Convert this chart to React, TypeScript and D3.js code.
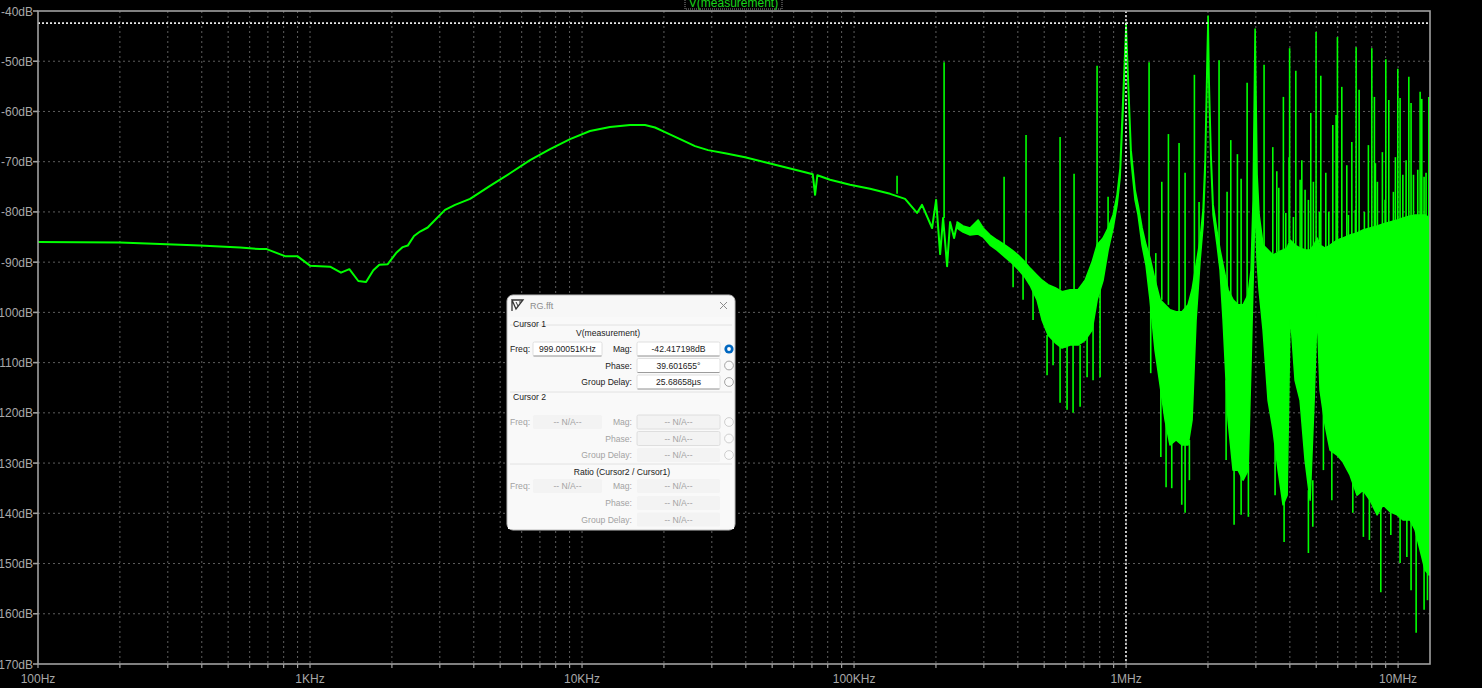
import React from "react";
import * as d3 from "d3";

const W = 1482;
const H = 688;

// axis labels
const dbTicks = [-40, -50, -60, -70, -80, -90, -100, -110, -120, -130, -140, -150, -160, -170];
const freqLabels: [number, string][] = [
  [100, "100Hz"],
  [1e3, "1KHz"],
  [1e4, "10KHz"],
  [1e5, "100KHz"],
  [1e6, "1MHz"],
  [1e7, "10MHz"],
];

// low frequency part of the trace: [Hz, dB]
const smoothTrace: [number, number][] = [
  [100, -86.0], [200, -86.1], [281, -86.4], [394, -86.7], [553, -87.1], [655, -87.4],
  [693, -87.4], [809, -88.8], [898, -88.8], [1000, -90.7], [1185, -90.9], [1300, -92.1],
  [1395, -91.4], [1505, -93.75], [1607, -93.95], [1709, -91.6], [1798, -90.5], [1931, -90.4],
  [2072, -88.2], [2192, -87.0], [2287, -86.7], [2412, -84.8], [2538, -83.9], [2708, -83.1],
  [2881, -81.6], [3136, -79.6], [3413, -78.6], [3875, -77.4], [4589, -74.8], [5437, -72.3],
  [6441, -69.7], [7628, -67.5], [9035, -65.5], [10700, -63.9], [12670, -63.1], [15020, -62.7],
  [17040, -62.7], [18550, -63.2], [20190, -64.1], [22930, -65.5], [26030, -66.9], [29050, -67.7],
  [33560, -68.3], [39750, -69.1], [47090, -70.1], [55770, -71.1], [66060, -72.1], [70500, -72.5],
  [71890, -76.6], [73300, -72.7], [81610, -73.6], [96670, -74.6], [114500, -75.4], [135700, -76.4],
  [154000, -77.4], [170400, -80.2], [177800, -78.6], [193600, -83.2], [200300, -77.6], [207200, -88.4],
  [212500, -81.2], [219800, -90.8], [225400, -82.0], [233200, -85.2], [239200, -82.4],
];

// noisy part: [Hz, upper dB, lower dB]
const noiseBand: [number, number, number][] = [
  [239.2e3, -82.0, -83.2], [251.6e3, -82.8, -84.0], [267.0e3, -83.2, -84.6], [285.7e3, -81.6, -84.4],
  [298.1e3, -83.2, -85.0], [316.2e3, -84.6, -86.6], [335.5e3, -85.6, -87.6], [359.1e3, -86.6, -89.0],
  [381.0e3, -87.6, -90.2], [400.7e3, -88.6, -91.4], [425.2e3, -90.0, -93.0], [443.6e3, -91.2, -94.6],
  [470.6e3, -92.6, -97.5], [491.1e3, -93.6, -101.5], [516.6e3, -94.5, -104.5], [548.3e3, -95.1, -106.0],
  [581.7e3, -95.9, -107.1], [622.6e3, -95.5, -106.5], [666.2e3, -95.5, -106.5], [707.0e3, -93.6, -105.5],
  [749.9e3, -90.0, -103.5], [782.4e3, -86.6, -97.5], [823.0e3, -85.2, -93.6], [858.7e3, -83.2, -87.6],
  [896.0e3, -80.6, -83.2], [926.7e3, -76.6, -78.6], [950.4e3, -71.3, -73.2], [975.0e3, -56.7, -59.7],
  [1.0e6, -42.4, -43.8], [1.017e6, -52.7, -54.7], [1.043e6, -67.7, -69.7], [1.079e6, -75.6, -77.6],
  [1.107e6, -78.6, -80.6], [1.145e6, -83.2, -86.6], [1.184e6, -86.6, -90.6], [1.225e6, -89.2, -97.5],
  [1.278e6, -93.6, -107.5], [1.334e6, -97.5, -114.5], [1.391e6, -98.5, -121.4], [1.451e6, -99.5, -126.4],
  [1.527e6, -99.9, -125.4], [1.606e6, -99.9, -126.4], [1.690e6, -98.5, -126.4], [1.748e6, -95.5, -121.4],
  [1.808e6, -90.6, -101.5], [1.871e6, -85.6, -89.6], [1.919e6, -79.6, -82.6], [1.952e6, -69.7, -72.6],
  [1.985e6, -49.8, -53.7], [2.002e6, -41.0, -43.8], [2.019e6, -53.7, -56.7], [2.053e6, -68.7, -70.7],
  [2.089e6, -78.6, -80.6], [2.161e6, -84.0, -86.6], [2.216e6, -87.6, -91.6], [2.273e6, -90.6, -101.5],
  [2.371e6, -95.5, -121.4], [2.474e6, -97.5, -131.4], [2.581e6, -98.5, -131.4], [2.692e6, -98.5, -133.4],
  [2.809e6, -96.5, -131.4], [2.881e6, -91.6, -109.5], [2.931e6, -77.6, -93.6], [2.981e6, -43.6, -77.6],
  [3.031e6, -72.6, -89.6], [3.083e6, -80.6, -95.5], [3.189e6, -86.6, -103.5], [3.327e6, -87.6, -117.5],
  [3.470e6, -88.6, -123.4], [3.622e6, -88.0, -131.4], [3.778e6, -87.6, -138.3], [3.908e6, -87.2, -136.4],
  [4.009e6, -85.6, -99.5], [4.182e6, -86.6, -113.5], [4.363e6, -87.2, -117.5], [4.551e6, -87.6, -129.4],
  [4.748e6, -87.6, -137.4], [4.911e6, -86.6, -117.5], [5.037e6, -85.2, -99.5], [5.167e6, -86.6, -115.5],
  [5.391e6, -87.2, -122.4], [5.623e6, -86.6, -127.4], [5.968e6, -85.6, -128.4], [6.279e6, -85.2, -129.8],
  [6.661e6, -84.6, -132.4], [7.068e6, -84.2, -136.4], [7.434e6, -83.6, -135.4], [7.889e6, -83.2, -137.4],
  [8.372e6, -82.8, -140.3], [8.808e6, -82.4, -138.3], [9.346e6, -82.0, -139.7], [9.915e6, -81.6, -140.3],
  [10.43e6, -81.2, -141.3], [11.07e6, -80.8, -141.3], [11.55e6, -80.6, -143.3], [12.05e6, -80.6, -147.3],
  [12.57e6, -80.6, -151.3], [13.0e6, -81.2, -152.3],
];

// narrow spectral lines: [Hz, top dB, bottom dB]
const spikes: [number, number, number][] = [
  [143.9e3, -72.8, -76.4], [214.3e3, -50.2, -81.2], [356.1e3, -73.0, -87.6], [428.8e3, -64.7, -90.6],
  [572.0e3, -65.1, -95.5], [643.9e3, -72.4, -95.5], [782.4e3, -50.9, -87.6], [858.7e3, -77.0, -85.6],
  [384.3e3, -90.0, -95.0], [418.1e3, -91.6, -97.5], [455.0e3, -94.5, -101.5],
  [512.3e3, -104.5, -112.5], [539.0e3, -105.5, -110.5], [572.0e3, -106.5, -118.0], [606.8e3, -106.5, -119.4],
  [638.5e3, -106.5, -120.0], [677.6e3, -106.5, -118.8], [718.9e3, -104.5, -112.9], [756.2e3, -101.5, -113.5],
  [802.4e3, -95.5, -112.9],
  [1.215e6, -50.2, -89.2], [1.286e6, -88.2, -95.5], [1.353e6, -74.0, -97.5], [1.431e6, -64.5, -98.5],
  [1.566e6, -66.3, -99.9], [1.648e6, -72.2, -99.5], [1.783e6, -52.7, -94.5], [1.855e6, -78.0, -87.6],
  [2.197e6, -49.8, -87.6], [2.351e6, -76.0, -95.5], [2.426e6, -65.7, -97.5], [2.566e6, -68.5, -98.5],
  [2.648e6, -73.4, -98.5], [2.786e6, -54.3, -97.5], [3.216e6, -50.7, -87.6], [3.462e6, -67.1, -88.6],
  [3.581e6, -71.9, -88.0], [3.787e6, -57.1, -87.6], [3.992e6, -47.4, -85.6], [4.207e6, -51.9, -86.6],
  [4.426e6, -69.7, -87.2], [4.551e6, -75.6, -87.6], [4.775e6, -60.3, -87.6], [4.994e6, -44.2, -85.6],
  [5.198e6, -52.9, -86.6], [5.423e6, -72.2, -87.2], [5.754e6, -62.7, -86.6], [5.983e6, -45.2, -85.6],
  [6.209e6, -55.1, -85.2], [6.478e6, -70.7, -84.8], [6.759e6, -66.1, -84.6], [7.009e6, -47.2, -84.2],
  [7.189e6, -55.7, -84.0], [7.777e6, -66.7, -83.4], [8.004e6, -47.4, -83.2], [8.183e6, -57.1, -83.0],
  [8.755e6, -68.1, -82.4], [9.012e6, -49.6, -82.4], [9.243e6, -57.7, -82.2], [9.975e6, -51.5, -81.6],
  [10.17e6, -57.3, -81.4], [10.41e6, -72.6, -81.2], [10.95e6, -53.1, -80.8], [11.16e6, -58.3, -80.8],
  [12.05e6, -56.1, -80.6], [12.22e6, -57.5, -80.6], [12.67e6, -72.2, -80.6], [12.97e6, -57.1, -81.2],
  [3.643e6, -75.2, -88.0], [3.865e6, -80.2, -87.4], [3.975e6, -69.1, -86.0], [4.122e6, -81.0, -86.4],
  [4.363e6, -73.6, -87.2], [4.680e6, -77.6, -87.6], [4.882e6, -74.0, -86.8], [5.137e6, -80.0, -86.0],
  [5.562e6, -80.0, -87.0], [5.918e6, -60.7, -85.8], [6.567e6, -80.6, -84.8], [6.966e6, -79.6, -84.4],
  [7.517e6, -80.0, -83.6], [8.252e6, -70.3, -82.9], [8.393e6, -74.0, -82.8], [8.959e6, -77.6, -82.4],
  [9.610e6, -76.0, -82.0], [9.775e6, -69.1, -81.8], [10.70e6, -69.7, -81.0], [11.39e6, -72.6, -80.6],
  [11.81e6, -71.6, -80.6], [12.46e6, -73.0, -80.6],
  [1.232e6, -97.5, -112.1], [1.342e6, -114.5, -128.8], [1.403e6, -121.4, -134.8], [1.472e6, -125.4, -135.0],
  [1.602e6, -125.4, -138.3], [1.648e6, -125.4, -139.9], [1.709e6, -125.4, -133.4], [2.332e6, -113.5, -129.4],
  [2.495e6, -129.4, -142.3], [2.648e6, -130.4, -140.3], [2.816e6, -130.4, -140.7], [3.530e6, -121.4, -136.4],
  [3.810e6, -137.4, -145.7], [4.680e6, -135.4, -147.9], [4.858e6, -133.4, -142.7], [5.314e6, -117.5, -131.4],
  [5.706e6, -126.4, -137.4], [6.816e6, -131.4, -139.9], [7.454e6, -134.4, -144.7], [7.843e6, -136.4, -145.3],
  [8.638e6, -137.4, -155.7], [9.402e6, -138.3, -144.3], [10.17e6, -139.3, -149.9], [10.77e6, -140.3, -148.7],
  [11.16e6, -140.3, -155.3], [11.65e6, -142.3, -163.8], [12.46e6, -149.3, -159.2], [12.82e6, -151.3, -157.3],
];

const cursorFreq = 999000.51;
const cursorMag = -42.417198;

const margin = { top: 11, right: 52, bottom: 24, left: 38 };
const GREEN = "#00ff00";
const GRID = "#5e5e5e";
const LABEL = "#a8a8a8";
const FONT = "'Liberation Sans', Arial, sans-serif";

const x = d3.scaleLog().domain([100, 13.1e6]).range([margin.left, W - margin.right]);
const y = d3.scaleLinear().domain([-170, -40]).range([H - margin.bottom, margin.top]);

const CursorDialog = () => {
  const dx = 507, dy = 295;
  const dark = "#1b1b1b";
  const dim = "#a3a3a3";
  const field = (fx: number, fy: number, w: number, txt: string, on: boolean, border = false) => (
    <g>
      <rect x={fx} y={fy} width={w} height={14} fill={on ? "#ffffff" : "#f3f3f3"}
        stroke={on || border ? "#d8d8d8" : "none"} strokeWidth={0.8} rx={1.5} />
      {on && <line x1={fx + 0.5} x2={fx + w - 0.5} y1={fy + 14} y2={fy + 14} stroke="#8a8a8a" strokeWidth={0.8} />}
      <text x={fx + w / 2} y={fy + 10.2} textAnchor="middle" fontSize={8.6} fill={on ? dark : dim}>{txt}</text>
    </g>
  );
  const radio = (cx: number, cy: number, on: boolean, enabled: boolean) => (
    on ? (
      <g>
        <circle cx={cx} cy={cy} r={4.6} fill="#0067c0" />
        <circle cx={cx} cy={cy} r={1.9} fill="#ffffff" />
      </g>
    ) : (
      <circle cx={cx} cy={cy} r={4.4} fill="#fbfbfb" stroke={enabled ? "#8e8e8e" : "#c4c4c4"} strokeWidth={0.8} />
    )
  );
  const lbl = (rx: number, ry: number, txt: string, col: string, anchor: "end" | "start" | "middle" = "end") => (
    <text x={rx} y={ry + 3} textAnchor={anchor} fontSize={8.6} fill={col}>{txt}</text>
  );
  const rows1 = [349, 365.5, 382];
  const rows2 = [422, 438.5, 455];
  const rows3 = [486, 503, 519.5];
  return (
    <g fontFamily={FONT}>
      <rect x={dx} y={dy} width={228} height={235} rx={6} fill="#f7f7f7" stroke="#bdbdbd" strokeWidth={1} />
      {/* title bar */}
      <path d={`M${dx + 5},${dy + 5} L${dx + 16},${dy + 5} L${dx + 9},${dy + 14} Z M${dx + 5},${dy + 5} L${dx + 5},${dy + 16}`}
        fill="none" stroke="#333" strokeWidth={1.3} />
      <path d={`M${dx + 9},${dy + 7} L${dx + 11},${dy + 11} M${dx + 12},${dy + 7} L${dx + 14},${dy + 7}`} stroke="#333" strokeWidth={1} />
      <text x={dx + 23} y={dy + 14} fontSize={9} fill="#8c8c8c">RG.fft</text>
      <path d={`M${dx + 213},${dy + 7} l7,7 M${dx + 220},${dy + 7} l-7,7`} stroke="#8a8a8a" strokeWidth={1} />
      <rect x={dx + 1} y={dy + 22} width={226} height={212} fill="#f9f9f9" />
      {/* Cursor 1 */}
      <line x1={dx + 3} x2={dx + 225} y1={325} y2={325} stroke="#e2e2e2" />
      <text x={dx + 6} y={327} fontSize={8.6} fill={dark}>Cursor 1</text>
      <text x={608} y={335.5} textAnchor="middle" fontSize={8.6} fill={dark}>V(measurement)</text>
      {lbl(510, rows1[0], "Freq:", dark, "start")}
      {field(533, rows1[0] - 7, 69, "999.00051KHz", true)}
      {lbl(632, rows1[0], "Mag:", dark)}
      {field(637, rows1[0] - 7, 83, "-42.417198dB", true)}
      {radio(729, rows1[0], true, true)}
      {lbl(632, rows1[1], "Phase:", dark)}
      {field(637, rows1[1] - 7, 83, "39.601655°", true)}
      {radio(729, rows1[1], false, true)}
      {lbl(632, rows1[2], "Group Delay:", dark)}
      {field(637, rows1[2] - 7, 83, "25.68658µs", true)}
      {radio(729, rows1[2], false, true)}
      {/* Cursor 2 */}
      <line x1={dx + 3} x2={dx + 225} y1={392} y2={392} stroke="#e2e2e2" />
      <text x={dx + 6} y={400} fontSize={8.6} fill={dark}>Cursor 2</text>
      {lbl(510, rows2[0], "Freq:", dim, "start")}
      {field(533, rows2[0] - 7, 69, "-- N/A--", false)}
      {lbl(632, rows2[0], "Mag:", dim)}
      {field(637, rows2[0] - 7, 83, "-- N/A--", false, true)}
      {radio(729, rows2[0], false, false)}
      {lbl(632, rows2[1], "Phase:", dim)}
      {field(637, rows2[1] - 7, 83, "-- N/A--", false, true)}
      {radio(729, rows2[1], false, false)}
      {lbl(632, rows2[2], "Group Delay:", dim)}
      {field(637, rows2[2] - 7, 83, "-- N/A--", false)}
      {radio(729, rows2[2], false, false)}
      {/* Ratio */}
      <line x1={dx + 3} x2={dx + 225} y1={464} y2={464} stroke="#e2e2e2" />
      <text x={622} y={475} textAnchor="middle" fontSize={8.6} fill={dark}>Ratio (Cursor2 / Cursor1)</text>
      {lbl(510, rows3[0], "Freq:", dim, "start")}
      {field(533, rows3[0] - 7, 69, "-- N/A--", false)}
      {lbl(632, rows3[0], "Mag:", dim)}
      {field(637, rows3[0] - 7, 83, "-- N/A--", false)}
      {lbl(632, rows3[1], "Phase:", dim)}
      {field(637, rows3[1] - 7, 83, "-- N/A--", false)}
      {lbl(632, rows3[2], "Group Delay:", dim)}
      {field(637, rows3[2] - 7, 83, "-- N/A--", false)}
    </g>
  );
};

export default function App() {
  const [x0, x1] = x.range();
  const [y0, y1] = y.range();
  const gridFreqs = x.ticks().filter((f) => f > 100 && f < 13.1e6);
  const tickFreqs = x.ticks().filter((f) => f >= 100 && f <= 13.1e6);

  const line = d3.line<[number, number]>().x((d) => x(d[0])).y((d) => y(d[1]));
  const area = d3.area<[number, number, number]>()
    .x((d) => x(d[0]))
    .y0((d) => y(d[2]))
    .y1((d) => y(d[1]));

  const cx = x(cursorFreq);
  const cy = y(cursorMag);

  return (
    <svg width={W} height={H} style={{ position: "absolute", left: 0, top: 0, background: "#000" }}>
      <rect x={0} y={0} width={W} height={H} fill="#000" />
      <defs>
        <clipPath id="plot">
          <rect x={x0} y={y1} width={x1 - x0} height={y0 - y1} />
        </clipPath>
      </defs>

      {/* grid */}
      {gridFreqs.map((f, i) => (
        <line key={"gx" + i} x1={x(f)} x2={x(f)} y1={y1} y2={y0} stroke={GRID} strokeDasharray="2,3" strokeWidth={1} />
      ))}
      {dbTicks.slice(1, -1).map((v) => (
        <line key={"gy" + v} x1={x0} x2={x1} y1={y(v)} y2={y(v)} stroke={GRID} strokeDasharray="2,3" strokeWidth={1} />
      ))}

      {/* trace */}
      <g clipPath="url(#plot)">
        <path d={line(smoothTrace) ?? ""} fill="none" stroke={GREEN} strokeWidth={2} strokeLinejoin="round" />
        <path d={area(noiseBand) ?? ""} fill={GREEN} stroke={GREEN} strokeWidth={1.6} strokeLinejoin="round" />
        {spikes.map((s, i) => (
          <line key={"sp" + i} x1={x(s[0])} x2={x(s[0])} y1={y(s[1])} y2={y(s[2])} stroke={GREEN} strokeWidth={1.6} />
        ))}
      </g>

      {/* cursor */}
      <line x1={cx} x2={cx} y1={y1} y2={y0} stroke="#e8e8e8" strokeWidth={1.6} strokeDasharray="2,2" />
      <line x1={x0} x2={x1} y1={cy} y2={cy} stroke="#e8e8e8" strokeWidth={1.6} strokeDasharray="2,2" />

      {/* frame */}
      <rect x={x0} y={y1} width={x1 - x0} height={y0 - y1} fill="none" stroke="#a0a0a0" strokeWidth={1.6} />

      {/* y axis */}
      {dbTicks.map((v) => (
        <g key={"ty" + v}>
          <line x1={x0 - 5} x2={x0} y1={y(v)} y2={y(v)} stroke="#a0a0a0" strokeWidth={1.6} />
          <text x={x0 - 5} y={y(v) + 4.5} textAnchor="end" fontSize={12} fontFamily={FONT} fill={LABEL}>{`${v}dB`}</text>
        </g>
      ))}

      {/* x axis */}
      {tickFreqs.map((f, i) => (
        <line key={"tx" + i} x1={x(f)} x2={x(f)} y1={y0} y2={y0 + 4} stroke="#a0a0a0" strokeWidth={1.2} />
      ))}
      {freqLabels.map(([f, t]) => (
        <text key={t} x={x(f)} y={H - 5} textAnchor="middle" fontSize={12} fontFamily={FONT} fill={LABEL}>{t}</text>
      ))}

      {/* trace name */}
      <rect x={685} y={-3} width={97} height={12} fill="none" stroke="#8a8a8a" strokeWidth={1} strokeDasharray="1,1" />
      <text x={733.5} y={6.5} textAnchor="middle" fontSize={12} fontFamily={FONT} fill="#19d419">V(measurement)</text>

      <CursorDialog />
    </svg>
  );
}
